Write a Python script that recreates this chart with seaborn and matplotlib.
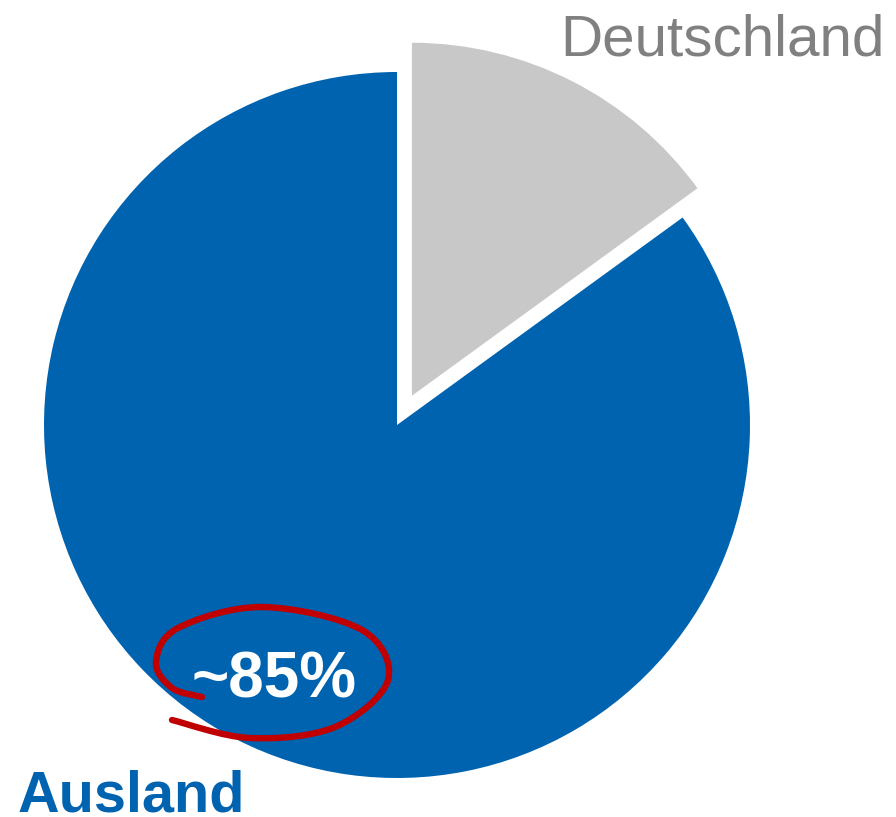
import numpy as np
import matplotlib
matplotlib.use("Agg")
import matplotlib.pyplot as plt
import seaborn as sns
from matplotlib.path import Path
from matplotlib.patches import PathPatch

sns.set_theme(style="white")
plt.rcParams['font.family'] = ['Liberation Sans', 'DejaVu Sans']

# data
labels = ['Deutschland', 'Ausland']
shares = [15, 85]
colors = ['#C8C8C8', '#0063B0']

W, H = 896, 817
R = 353
fig = plt.figure(figsize=(W / 100, H / 100), dpi=100)
ax = fig.add_axes([0, 0, 1, 1])

# pie, clockwise from 12 o'clock; explode is in data units here
ax.pie(shares, colors=colors, explode=[0.093 * R, 0.0], startangle=90,
       counterclock=False, center=(397, H - 425), radius=R,
       wedgeprops=dict(linewidth=0), frame=True)
ax.set_xlim(0, W)
ax.set_ylim(0, H)
ax.set_aspect('equal')
ax.axis('off')

# labels
ax.text(885, H - 55, labels[0], color='#808080', fontsize=42, ha='right', va='baseline')
ax.text(18, H - 811, labels[1], color='#0063B0', fontsize=41.5, fontweight='bold',
        ha='left', va='baseline')
ax.text(274, H - 697, '~%d%%' % shares[1], color='white', fontsize=46, fontweight='bold',
        ha='center', va='baseline')

# hand drawn red loop around the percentage
loop = np.array([(172, 720), (250, 738), (335, 727), (388, 680), (362, 630),
                 (262, 607), (178, 628), (156, 662), (172, 688), (202, 697)], dtype=float)
loop[:, 1] = H - loop[:, 1]
pts = np.vstack([loop[0], loop, loop[-1]])
verts = [tuple(pts[1])]
codes = [Path.MOVETO]
for i in range(1, len(pts) - 2):
    c1 = pts[i] + (pts[i + 1] - pts[i - 1]) / 6
    c2 = pts[i + 1] - (pts[i + 2] - pts[i]) / 6
    verts += [tuple(c1), tuple(c2), tuple(pts[i + 1])]
    codes += [Path.CURVE4] * 3
ax.add_patch(PathPatch(Path(verts, codes), fill=False, edgecolor='#C00000',
                       linewidth=4.6, capstyle='round'))

fig.savefig('out.png', dpi=100)
